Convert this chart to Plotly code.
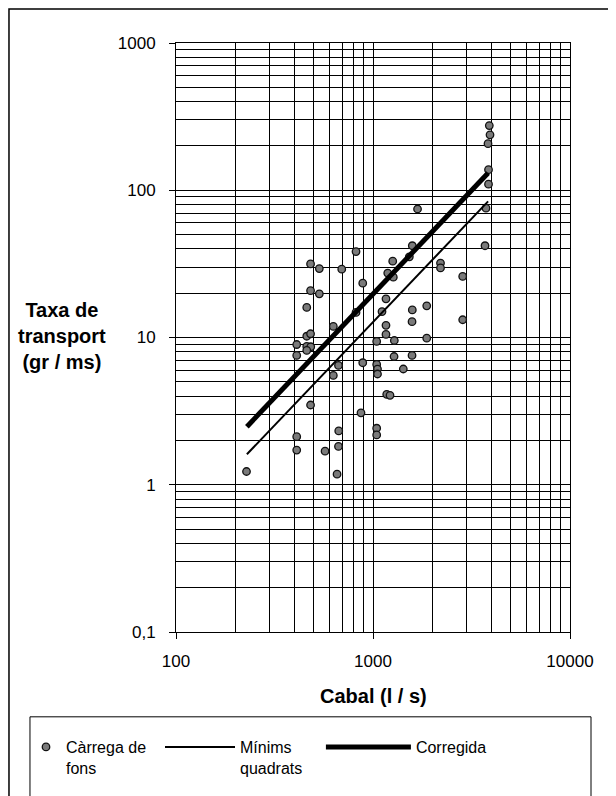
import plotly.graph_objects as go

# ---- data ----
cabal = [228, 410, 410, 410, 410, 461, 461, 482, 461, 483, 461, 482, 482, 482,
         534, 534, 571, 629, 629, 668, 670, 668, 657, 694, 820, 820, 887, 887,
         869, 1044, 1044, 1054, 1054, 1044, 1044, 1111, 1164, 1164, 1164, 1174,
         1220, 1188, 1268, 1259, 1283, 1279, 1425, 1529, 1583, 1583, 1578, 1578,
         1683, 1874, 1874, 2201, 2201, 2853, 2853, 3703, 3746, 3835, 3858, 3858,
         3894, 3926]
taxa = [1.23, 8.96, 7.55, 2.12, 1.72, 16.0, 10.2, 10.6, 8.7, 8.65, 8.17, 31.6,
        20.8, 3.48, 29.4, 19.8, 1.69, 11.9, 5.53, 6.46, 2.32, 1.82, 1.18, 29.1,
        38.3, 14.8, 23.4, 6.74, 3.08, 9.40, 6.56, 6.10, 5.65, 2.42, 2.18, 15.0,
        18.3, 12.1, 10.5, 4.11, 4.05, 27.4, 25.7, 33.0, 9.54, 7.43, 6.11, 35.3,
        42.0, 15.4, 12.8, 7.55, 74.6, 16.4, 9.89, 32.0, 29.7, 26.0, 13.2, 42.0,
        75.5, 207, 138, 110, 275, 238]

fit_x = [229, 3840]
minims_y = [1.61, 84]
corregida_y = [2.48, 131]

x_tickvals = [100, 1000, 10000]
x_ticktext = ["100", "1000", "10000"]
y_tickvals = [0.1, 1, 10, 100, 1000]
y_ticktext = ["0,1", "1", "10", "100", "1000"]
x_minor = [200, 300, 400, 500, 600, 700, 800, 900,
           2000, 3000, 4000, 5000, 6000, 7000, 8000, 9000]
y_minor = [0.2, 0.3, 0.4, 0.5, 0.6, 0.7, 0.8, 0.9,
           2, 3, 4, 5, 6, 7, 8, 9,
           20, 30, 40, 50, 60, 70, 80, 90,
           200, 300, 400, 500, 600, 700, 800, 900]

FONT = "Liberation Sans, Arial, sans-serif"

fig = go.Figure()
fig.add_trace(go.Scatter(
    x=cabal, y=taxa, mode="markers", name="Càrrega de<br>fons",
    marker=dict(symbol="circle", size=7.5, color="#7a7a7a",
                line=dict(color="#111111", width=1.3)),
    legend="legend"))
fig.add_trace(go.Scatter(
    x=fit_x, y=minims_y, mode="lines", name="Mínims<br>quadrats",
    line=dict(color="black", width=2), legend="legend2"))
fig.add_trace(go.Scatter(
    x=fit_x, y=corregida_y, mode="lines", name="Corregida",
    line=dict(color="black", width=5), legend="legend3"))

axis_common = dict(
    type="log", showline=True, linecolor="black", linewidth=1, mirror=True,
    showgrid=True, gridcolor="black", gridwidth=1,
    ticks="outside", ticklen=6, tickcolor="black", tickwidth=1,
    tickfont=dict(family=FONT, size=17, color="black"),
    zeroline=False,
)

# page body has an 8px margin, so the figure is 8px smaller than the window
fig.update_layout(
    width=608, height=788,
    margin=dict(l=168, r=46, t=35, b=163),
    paper_bgcolor="white", plot_bgcolor="white",
    font=dict(family=FONT, color="black"),
    xaxis=dict(axis_common, range=[2, 4], tickmode="array",
               tickvals=x_tickvals, ticktext=x_ticktext, ticklabelstandoff=8,
               minor=dict(tickmode="array", tickvals=x_minor, showgrid=True,
                          gridcolor="black", gridwidth=1, ticks="")),
    yaxis=dict(axis_common, range=[-1, 3], tickmode="array",
               tickvals=y_tickvals, ticktext=y_ticktext, ticklabelstandoff=10,
               minor=dict(tickmode="array", tickvals=y_minor, showgrid=True,
                          gridcolor="black", gridwidth=1, ticks="")),
    showlegend=True,
    legend=dict(x=-0.3807, xanchor="left", y=-0.1644, yanchor="top",
                orientation="h", valign="top", itemsizing="trace",
                font=dict(family=FONT, size=16), bgcolor="rgba(0,0,0,0)"),
    legend2=dict(x=-0.0406, xanchor="left", y=-0.1644, yanchor="top",
                 orientation="h", valign="top", itemwidth=70,
                 font=dict(family=FONT, size=16), bgcolor="rgba(0,0,0,0)"),
    legend3=dict(x=0.3678, xanchor="left", y=-0.1644, yanchor="top",
                 orientation="h", valign="top", itemwidth=85,
                 font=dict(family=FONT, size=16), bgcolor="rgba(0,0,0,0)"),
    annotations=[
        dict(text="<b>Taxa de<br>transport<br>(gr / ms)</b>", xref="paper",
             yref="paper", x=-0.289, y=0.5017, xanchor="center",
             yanchor="middle", showarrow=False, align="center",
             font=dict(family=FONT, size=20)),
        dict(text="<b>Cabal (l / s)</b>", xref="paper", yref="paper",
             x=0.5, y=-0.1085, xanchor="center", yanchor="middle",
             showarrow=False, font=dict(family=FONT, size=20)),
    ],
    shapes=[
        dict(type="rect", xref="paper", yref="paper",
             x0=-0.4239, x1=1.1066, y0=-0.30, y1=1.0576,
             line=dict(color="black", width=1.5), layer="below"),
        dict(type="rect", xref="paper", yref="paper",
             x0=-0.3706, x1=1.0533, y0=-0.30, y1=-0.144,
             line=dict(color="black", width=1), layer="below"),
    ],
)

fig.write_html("out.html")
